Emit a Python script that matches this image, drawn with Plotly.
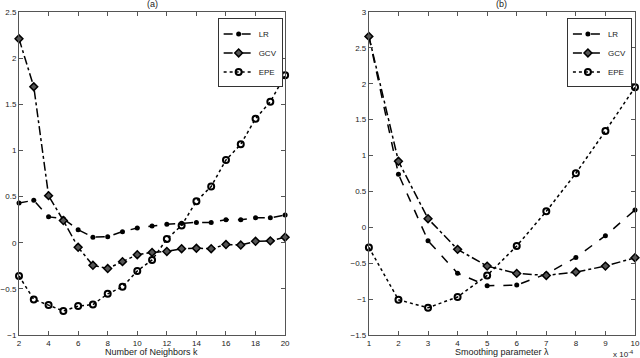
import plotly.graph_objects as go
from plotly.subplots import make_subplots

# (a) number of neighbours k
k = list(range(2, 21))
lr_a = [0.43, 0.46, 0.28, 0.26, 0.14, 0.06, 0.065, 0.12, 0.16, 0.18,
        0.2, 0.21, 0.22, 0.22, 0.25, 0.25, 0.27, 0.27, 0.3]
gcv_a = [2.21, 1.69, 0.51, 0.24, -0.05, -0.245, -0.28, -0.205, -0.13, -0.105,
         -0.095, -0.065, -0.06, -0.065, -0.02, -0.025, 0.015, 0.02, 0.06]
epe_a = [-0.36, -0.615, -0.676, -0.74, -0.687, -0.67, -0.554, -0.478, -0.306, -0.187,
         0.04, 0.187, 0.45, 0.61, 0.897, 1.066, 1.344, 1.528, 1.814]

# (b) smoothing parameter lambda (x 10^-4)
lam = list(range(1, 11))
lr_b = [2.66, 0.74, -0.186, -0.64, -0.814, -0.805, -0.65, -0.42, -0.116, 0.242]
gcv_b = [2.66, 0.92, 0.12, -0.307, -0.54, -0.642, -0.67, -0.623, -0.54, -0.423]
epe_b = [-0.28, -1.01, -1.12, -0.97, -0.67, -0.26, 0.223, 0.753, 1.343, 1.95]

font = "Liberation Sans, Arial, sans-serif"

fig = make_subplots(rows=1, cols=2, horizontal_spacing=0.136,
                    subplot_titles=["(a)", "(b)"])

styles = [
    ("LR", "dash", dict(symbol="circle", size=5, color="black")),
    ("GCV", "dashdot", dict(symbol="diamond", size=6, color="#555555",
                            line=dict(color="black", width=1.5))),
    ("EPE", "dot", dict(symbol="circle-open", size=6, color="black",
                        line=dict(color="black", width=2))),
]

for col, xs, ys, leg in [(1, k, [lr_a, gcv_a, epe_a], "legend"),
                         (2, lam, [lr_b, gcv_b, epe_b], "legend2")]:
    for (name, dash, marker), y in zip(styles, ys):
        fig.add_trace(go.Scatter(
            x=xs, y=y, name=name, mode="lines+markers",
            line=dict(color="black", width=1.5, dash=dash),
            marker=marker, legend=leg, cliponaxis=False,
        ), row=1, col=col)

axis_style = dict(
    showgrid=False, zeroline=False, showline=True, linecolor="#555555",
    linewidth=1, mirror="ticks", ticks="inside", ticklen=4, tickcolor="#555555",
    tickfont=dict(size=8, color="#222222"), automargin=False,
)

fig.update_xaxes(axis_style)
fig.update_yaxes(axis_style)

fig.update_xaxes(range=[2, 20], tickvals=list(range(2, 21, 2)), row=1, col=1)
fig.update_yaxes(range=[-1, 2.5], dtick=0.5, row=1, col=1)
fig.update_xaxes(range=[1, 10], dtick=1, row=1, col=2)
fig.update_yaxes(range=[-1.5, 3], dtick=0.5, row=1, col=2)

for a in fig.layout.annotations:
    a.font = dict(size=9, family=font, color="#222222")
    a.yshift = 1

# axis titles and the exponent note for panel (b)
txt = dict(xref="paper", yref="paper", showarrow=False,
           font=dict(size=9, family=font, color="#222222"))
fig.add_annotation(txt, text="Number of Neighbors k", x=0.2159, y=0,
                   yshift=-17, xanchor="center", yanchor="middle")
fig.add_annotation(txt, text="Smoothing parameter λ", x=0.784, y=0,
                   yshift=-17, xanchor="center", yanchor="middle")
fig.add_annotation(txt, text="x 10<sup>-4</sup>", x=1.0, y=0, yshift=-19,
                   xanchor="right", yanchor="middle", font_size=8)

legend_style = dict(bgcolor="white", bordercolor="#333333", borderwidth=1,
                    font=dict(size=8, family=font), xanchor="right", yanchor="top",
                    tracegroupgap=0, itemwidth=30)

fig.update_layout(
    width=640, height=358,
    margin=dict(l=19, r=5, t=12, b=23),
    plot_bgcolor="white", paper_bgcolor="white",
    font=dict(family=font, color="#222222"),
    legend=dict(legend_style, x=0.428, y=0.98),
    legend2=dict(legend_style, x=0.995, y=0.98),
)

fig.write_html("out.html",
               config={"displayModeBar": False},
               post_script="document.body.style.margin='0';"
                           "document.body.style.overflow='hidden';")
